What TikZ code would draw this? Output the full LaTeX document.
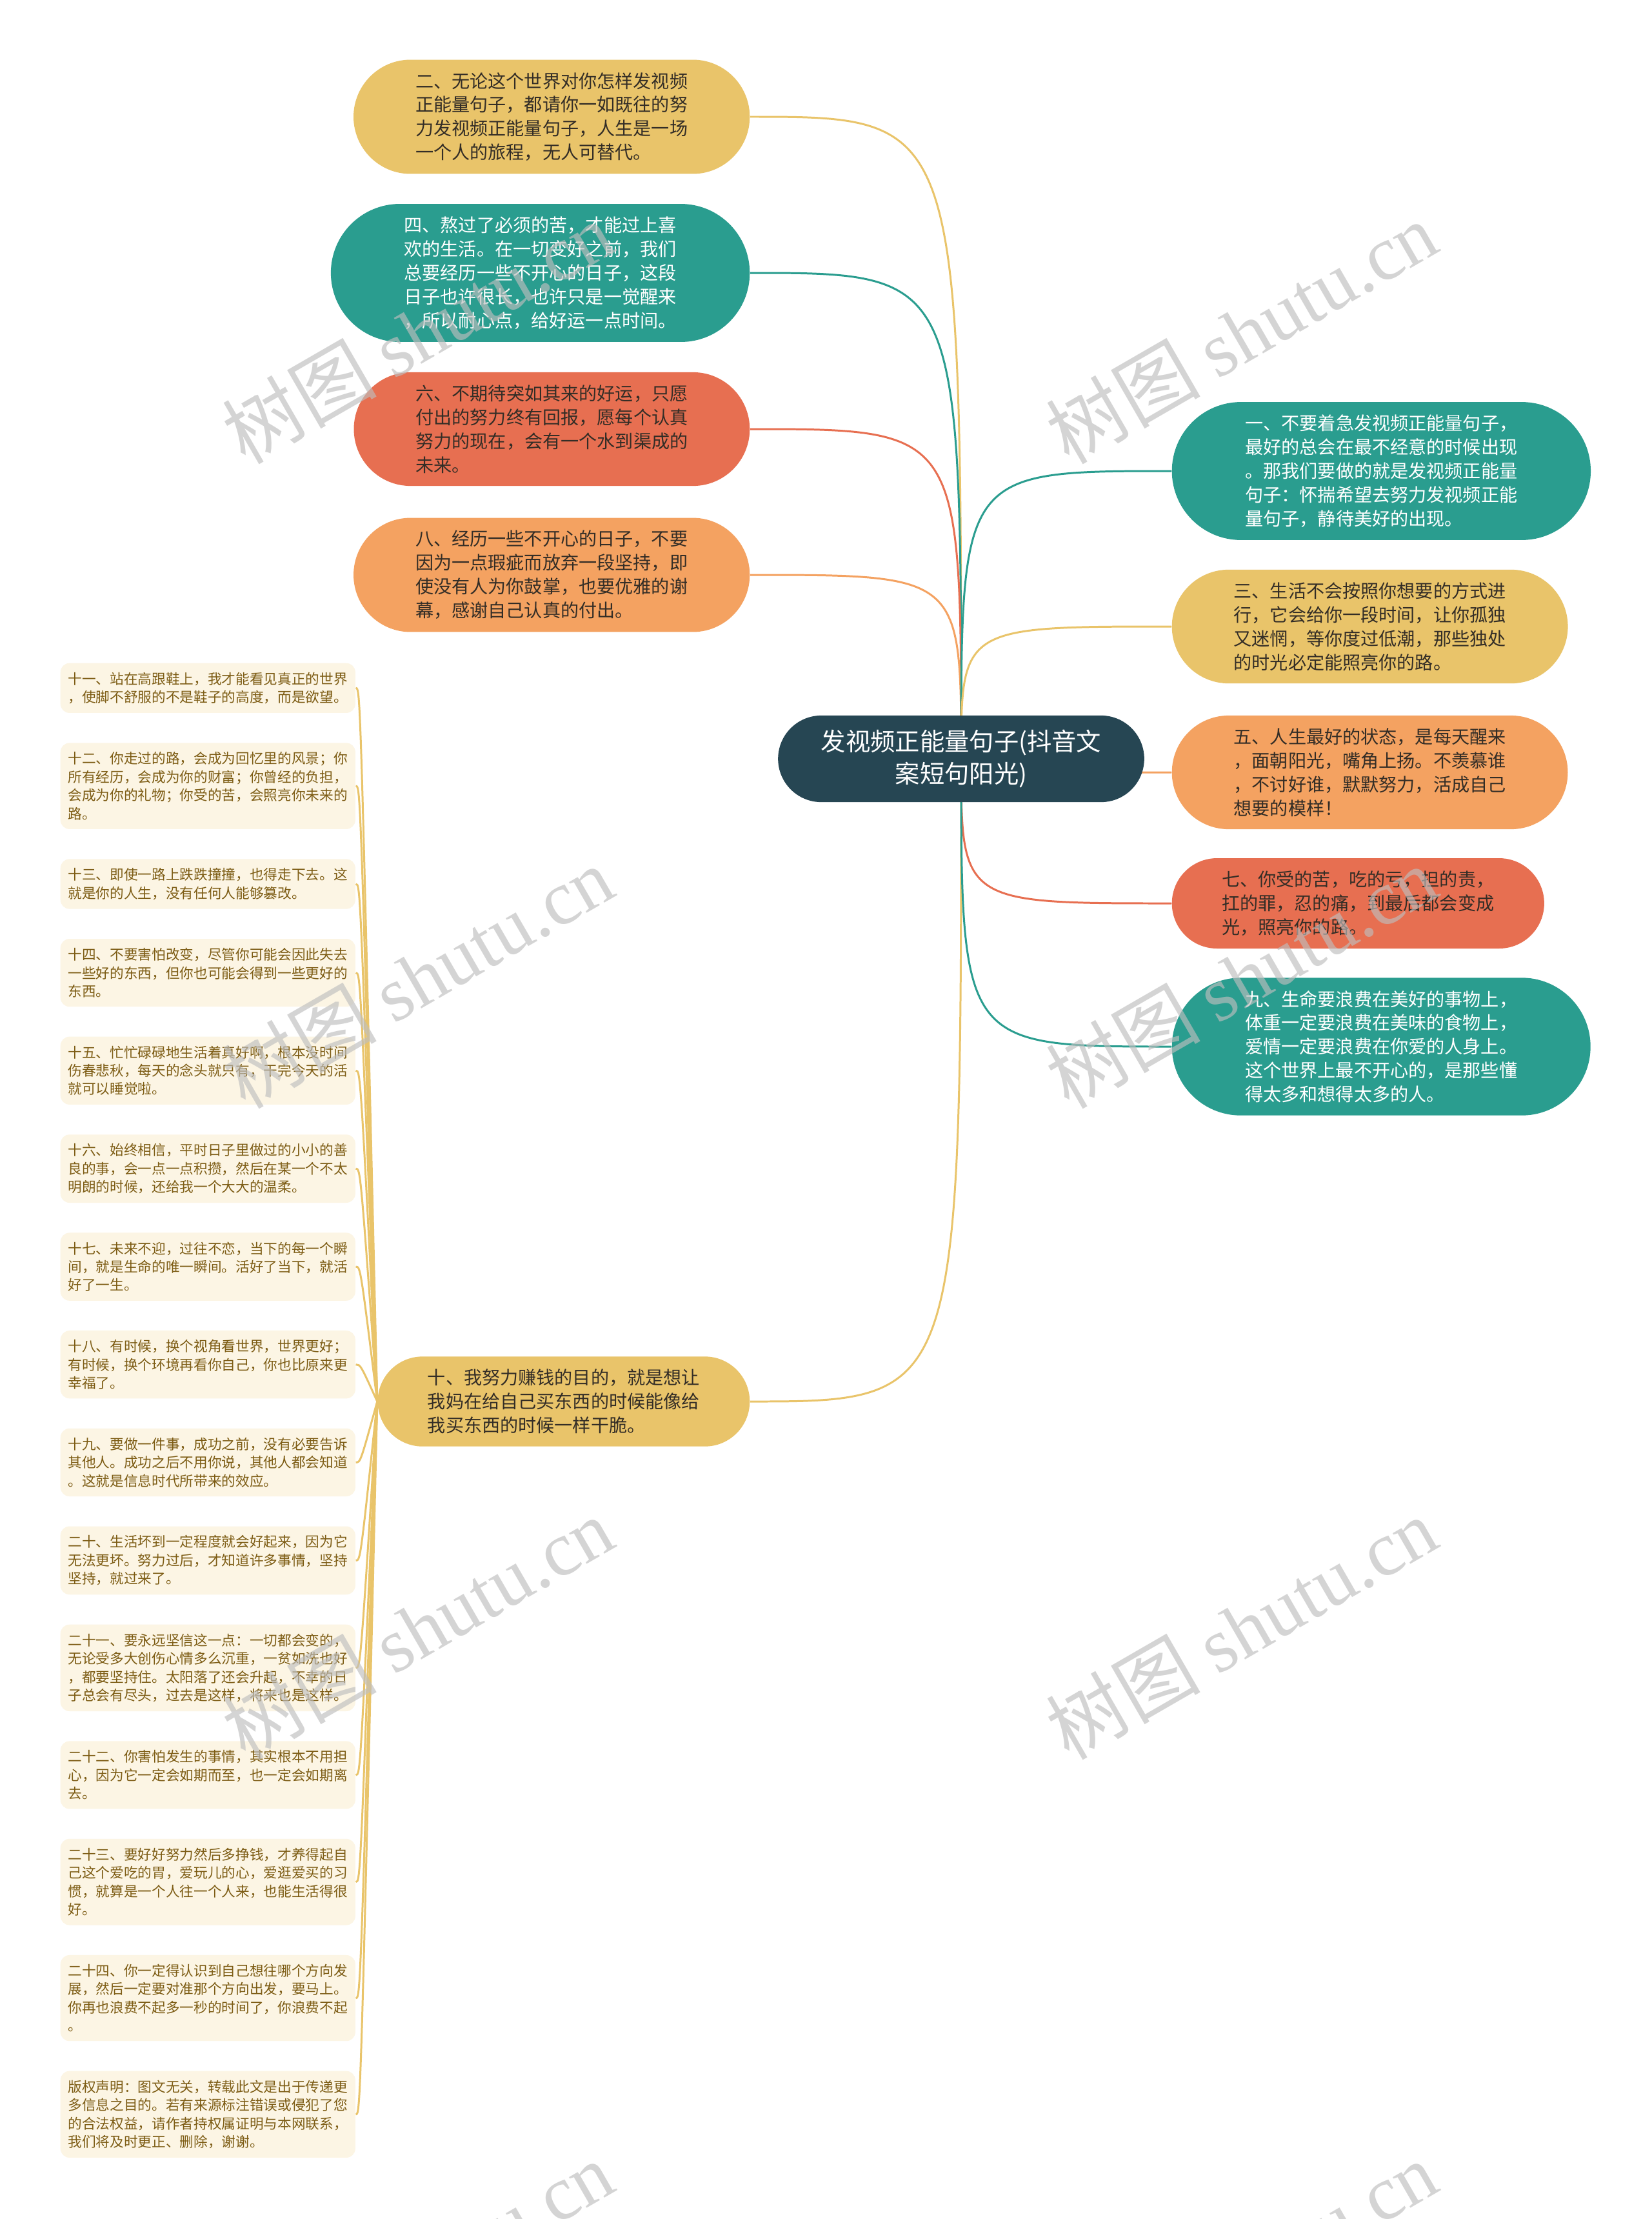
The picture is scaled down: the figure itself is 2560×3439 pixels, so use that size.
\documentclass[tikz,border=0pt]{standalone}
\usepackage{fontspec}
\setmainfont{Noto Sans CJK SC}
\newfontfamily\wmlatin{Liberation Serif}
\usepackage{tikz}
\usetikzlibrary{shapes.misc, positioning, backgrounds}
\pgfdeclarelayer{paper}
\pgfsetlayers{paper,background,main}

\definecolor{rootblue}{HTML}{264653}
\definecolor{mmteal}{HTML}{2A9D8F}
\definecolor{mmyellow}{HTML}{E9C46A}
\definecolor{mmorange}{HTML}{F4A261}
\definecolor{mmred}{HTML}{E76F51}
\definecolor{cardfill}{RGB}{252,245,228}
\definecolor{cardtext}{RGB}{125,92,20}
\definecolor{inkdark}{RGB}{51,45,38}
\definecolor{wmgray}{RGB}{190,190,190}

\tikzset{
    rootnode/.style={rounded rectangle, fill=rootblue, text=white, inner xsep=14pt, inner ysep=6.3pt, align=center, font=\fontsize{10.9}{14.2}\selectfont},
    pill/.style={rounded rectangle, inner xsep=18pt, inner ysep=5.6pt, align=left, text=inkdark, font=\fontsize{8}{10.5}\selectfont},
    pillw/.style={pill, text=white},
    short/.style={inner xsep=16pt},
    tall/.style={inner xsep=19.5pt},
    card/.style={rectangle, rounded corners=4pt, fill=cardfill, text=cardtext, inner xsep=3.4pt, inner ysep=4pt, text width=4.33cm, align=left, font=\fontsize{6.16}{8.1}\selectfont},
    link/.style={line width=0.85pt},
    wm/.style={text=wmgray, opacity=0.65, rotate=30, font=\fontsize{34}{40}\selectfont}
}

\begin{document}
\begin{tikzpicture}[x=0.01cm, y=-0.01cm, node distance=0.45cm]
    \useasboundingbox (0,0) rectangle (2560,3439);
    \begin{pgfonlayer}{paper}
        \fill[white] (0,0) rectangle (2560,3439);
    \end{pgfonlayer}
    \clip (0,0) rectangle (2560,3439);

    % Root
    \node[rootnode] (root) at (1490,1176) {发视频正能量句子(抖音文\\案短句阳光)};

    % Left branches
    \node[pill, fill=mmyellow, anchor=east] (n2) at (1163,181) {二、无论这个世界对你怎样发视频\\正能量句子，都请你一如既往的努\\力发视频正能量句子，人生是一场\\一个人的旅程，无人可替代。};
    \node[pillw, tall, fill=mmteal, anchor=east] (n4) at (1163,423) {四、熬过了必须的苦，才能过上喜\\欢的生活。在一切变好之前，我们\\总要经历一些不开心的日子，这段\\日子也许很长，也许只是一觉醒来\\，所以耐心点，给好运一点时间。};
    \node[pill, fill=mmred, anchor=east] (n6) at (1163,665) {六、不期待突如其来的好运，只愿\\付出的努力终有回报，愿每个认真\\努力的现在，会有一个水到渠成的\\未来。};
    \node[pill, fill=mmorange, anchor=east] (n8) at (1163,891) {八、经历一些不开心的日子，不要\\因为一点瑕疵而放弃一段坚持，即\\使没有人为你鼓掌，也要优雅的谢\\幕，感谢自己认真的付出。};
    \node[pill, short, fill=mmyellow, anchor=east] (n10) at (1163,2172) {十、我努力赚钱的目的，就是想让\\我妈在给自己买东西的时候能像给\\我买东西的时候一样干脆。};

    % Right branches
    \node[pillw, tall, fill=mmteal, anchor=west] (n1) at (1816,730) {一、不要着急发视频正能量句子，\\最好的总会在最不经意的时候出现\\。那我们要做的就是发视频正能量\\句子：怀揣希望去努力发视频正能\\量句子，静待美好的出现。};
    \node[pill, fill=mmyellow, anchor=west] (n3) at (1816,971) {三、生活不会按照你想要的方式进\\行，它会给你一段时间，让你孤独\\又迷惘，等你度过低潮，那些独处\\的时光必定能照亮你的路。};
    \node[pill, fill=mmorange, anchor=west] (n5) at (1816,1197) {五、人生最好的状态，是每天醒来\\，面朝阳光，嘴角上扬。不羡慕谁\\，不讨好谁，默默努力，活成自己\\想要的模样！};
    \node[pill, short, fill=mmred, anchor=west] (n7) at (1816,1400) {七、你受的苦，吃的亏，担的责，\\扛的罪，忍的痛，到最后都会变成\\光，照亮你的路。};
    \node[pillw, tall, fill=mmteal, anchor=west] (n9) at (1816,1622) {九、生命要浪费在美好的事物上，\\体重一定要浪费在美味的食物上，\\爱情一定要浪费在你爱的人身上。\\这个世界上最不开心的，是那些懂\\得太多和想得太多的人。};

    % Cards under ten
    \node[card, anchor=north west] (s11) at (93,1027) {十一、站在高跟鞋上，我才能看见真正的世界\\，使脚不舒服的不是鞋子的高度，而是欲望。};
    \node[card, below=of s11] (s12) {十二、你走过的路，会成为回忆里的风景；你\\所有经历，会成为你的财富；你曾经的负担，\\会成为你的礼物；你受的苦，会照亮你未来的\\路。};
    \node[card, below=of s12] (s13) {十三、即使一路上跌跌撞撞，也得走下去。这\\就是你的人生，没有任何人能够篡改。};
    \node[card, below=of s13] (s14) {十四、不要害怕改变，尽管你可能会因此失去\\一些好的东西，但你也可能会得到一些更好的\\东西。};
    \node[card, below=of s14] (s15) {十五、忙忙碌碌地生活着真好啊，根本没时间\\伤春悲秋，每天的念头就只有，干完今天的活\\就可以睡觉啦。};
    \node[card, below=of s15] (s16) {十六、始终相信，平时日子里做过的小小的善\\良的事，会一点一点积攒，然后在某一个不太\\明朗的时候，还给我一个大大的温柔。};
    \node[card, below=of s16] (s17) {十七、未来不迎，过往不恋，当下的每一个瞬\\间，就是生命的唯一瞬间。活好了当下，就活\\好了一生。};
    \node[card, below=of s17] (s18) {十八、有时候，换个视角看世界，世界更好；\\有时候，换个环境再看你自己，你也比原来更\\幸福了。};
    \node[card, below=of s18] (s19) {十九、要做一件事，成功之前，没有必要告诉\\其他人。成功之后不用你说，其他人都会知道\\。这就是信息时代所带来的效应。};
    \node[card, below=of s19] (s20) {二十、生活坏到一定程度就会好起来，因为它\\无法更坏。努力过后，才知道许多事情，坚持\\坚持，就过来了。};
    \node[card, below=of s20] (s21) {二十一、要永远坚信这一点：一切都会变的，\\无论受多大创伤心情多么沉重，一贫如洗也好\\，都要坚持住。太阳落了还会升起，不幸的日\\子总会有尽头，过去是这样，将来也是这样。};
    \node[card, below=of s21] (s22) {二十二、你害怕发生的事情，其实根本不用担\\心，因为它一定会如期而至，也一定会如期离\\去。};
    \node[card, below=of s22] (s23) {二十三、要好好努力然后多挣钱，才养得起自\\己这个爱吃的胃，爱玩儿的心，爱逛爱买的习\\惯，就算是一个人往一个人来，也能生活得很\\好。};
    \node[card, below=of s23] (s24) {二十四、你一定得认识到自己想往哪个方向发\\展，然后一定要对准那个方向出发，要马上。\\你再也浪费不起多一秒的时间了，你浪费不起\\。};
    \node[card, below=of s24] (s25) {版权声明：图文无关，转载此文是出于传递更\\多信息之目的。若有来源标注错误或侵犯了您\\的合法权益，请作者持权属证明与本网联系，\\我们将及时更正、删除，谢谢。};

    % Links
    \coordinate (hub) at ([xshift=-0.26cm]n10.west);
    \begin{scope}[on background layer]
        \draw[link, mmyellow] (root.center) .. controls (root.center |- n2.east) .. (n2.east);
        \draw[link, mmteal] (root.center) .. controls (root.center |- n4.east) .. (n4.east);
        \draw[link, mmred] (root.center) .. controls (root.center |- n6.east) .. (n6.east);
        \draw[link, mmorange] (root.center) .. controls (root.center |- n8.east) .. (n8.east);
        \draw[link, mmyellow] (root.center) .. controls (root.center |- n10.east) .. (n10.east);
        \draw[link, mmteal] (root.center) .. controls (root.center |- n1.west) .. (n1.west);
        \draw[link, mmyellow] (root.center) .. controls (root.center |- n3.west) .. (n3.west);
        \draw[link, mmorange] (root.center) .. controls (root.center |- n5.west) .. (n5.west);
        \draw[link, mmred] (root.center) .. controls (root.center |- n7.west) .. (n7.west);
        \draw[link, mmteal] (root.center) .. controls (root.center |- n9.west) .. (n9.west);

        \draw[link, mmyellow] (n10.west) .. controls (hub |- s11.east) .. (s11.east);
        \draw[link, mmyellow] (n10.west) .. controls (hub |- s12.east) .. (s12.east);
        \draw[link, mmyellow] (n10.west) .. controls (hub |- s13.east) .. (s13.east);
        \draw[link, mmyellow] (n10.west) .. controls (hub |- s14.east) .. (s14.east);
        \draw[link, mmyellow] (n10.west) .. controls (hub |- s15.east) .. (s15.east);
        \draw[link, mmyellow] (n10.west) .. controls (hub |- s16.east) .. (s16.east);
        \draw[link, mmyellow] (n10.west) .. controls (hub |- s17.east) .. (s17.east);
        \draw[link, mmyellow] (n10.west) .. controls (hub |- s18.east) .. (s18.east);
        \draw[link, mmyellow] (n10.west) .. controls (hub |- s19.east) .. (s19.east);
        \draw[link, mmyellow] (n10.west) .. controls (hub |- s20.east) .. (s20.east);
        \draw[link, mmyellow] (n10.west) .. controls (hub |- s21.east) .. (s21.east);
        \draw[link, mmyellow] (n10.west) .. controls (hub |- s22.east) .. (s22.east);
        \draw[link, mmyellow] (n10.west) .. controls (hub |- s23.east) .. (s23.east);
        \draw[link, mmyellow] (n10.west) .. controls (hub |- s24.east) .. (s24.east);
        \draw[link, mmyellow] (n10.west) .. controls (hub |- s25.east) .. (s25.east);
    \end{scope}

    % Watermarks
    \node[wm] (wm1) at (647,515) {树图 {\wmlatin shutu.cn}};
    \node[wm] (wm2) at (1924,515) {树图 {\wmlatin shutu.cn}};
    \node[wm] (wm3) at (647,1514) {树图 {\wmlatin shutu.cn}};
    \node[wm] (wm4) at (1924,1514) {树图 {\wmlatin shutu.cn}};
    \node[wm] (wm5) at (647,2523) {树图 {\wmlatin shutu.cn}};
    \node[wm] (wm6) at (1924,2523) {树图 {\wmlatin shutu.cn}};
    \node[wm] (wm7) at (647,3521) {树图 {\wmlatin shutu.cn}};
    \node[wm] (wm8) at (1924,3521) {树图 {\wmlatin shutu.cn}};
\end{tikzpicture}
\end{document}
